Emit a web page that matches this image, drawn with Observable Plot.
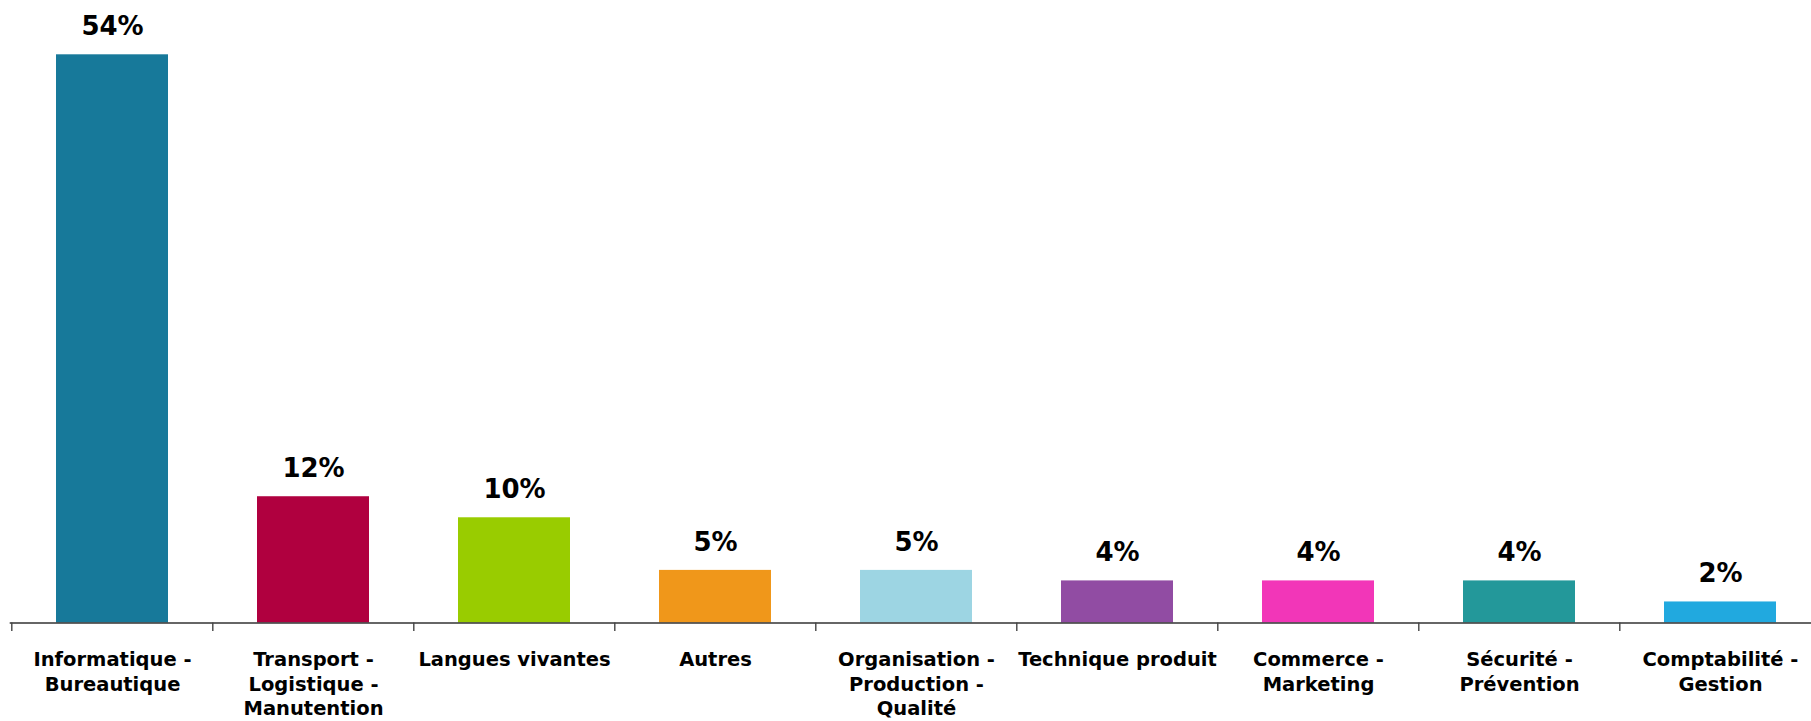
<!DOCTYPE html>
<html>
<head>
<meta charset="utf-8">
<script src="https://cdn.jsdelivr.net/npm/d3@7"></script>
<script src="https://cdn.jsdelivr.net/npm/@observablehq/plot@0.6"></script>
<style>
  html, body { margin: 0; padding: 0; background: #fff; }
  #chart svg { display: block; }
</style>
</head>
<body>
<div id="chart"></div>
<script>
const categories = [
  "Informatique - Bureautique",
  "Transport - Logistique - Manutention",
  "Langues vivantes",
  "Autres",
  "Organisation - Production - Qualité",
  "Technique produit",
  "Commerce - Marketing",
  "Sécurité - Prévention",
  "Comptabilité - Gestion"
];
const tickLabels = [
  "Informatique -\nBureautique",
  "Transport -\nLogistique -\nManutention",
  "Langues vivantes",
  "Autres",
  "Organisation -\nProduction -\nQualité",
  "Technique produit",
  "Commerce -\nMarketing",
  "Sécurité -\nPrévention",
  "Comptabilité -\nGestion"
];
const values = [54, 12, 10, 5, 5, 4, 4, 4, 2];
const colors = ["#17799A", "#B0003F", "#99CC00", "#F0971A", "#9DD5E3", "#914CA3", "#F236B8", "#23989A", "#21A9DF"];

const data = categories.map((c, i) => ({cat: c, label: tickLabels[i], value: values[i], color: colors[i]}));

const W = 1811, H = 721;
const xr = [9.7, 1822.3];
const step = (xr[1] - xr[0]) / categories.length;
const font = "'DejaVu Sans', Verdana, sans-serif";

const chart = Plot.plot({
  width: W,
  height: H,
  marginLeft: 9.7,
  marginRight: 0,
  marginTop: 0,
  marginBottom: 98.5,
  style: {fontFamily: font, background: "#fff"},
  x: {type: "band", domain: categories, range: xr, paddingInner: 0.442, paddingOuter: 0.221, axis: null, label: null},
  y: {domain: [0, 54], range: [622.5, 54.3], axis: null, label: null},
  color: {type: "identity"},
  marks: [
    Plot.barY(data, {x: "cat", y: "value", fill: "color"}),
    Plot.ruleY([0], {stroke: "#333", strokeWidth: 1.6}),
    Plot.axisX({tickSize: 8.5, tickFormat: () => "", label: null, dx: -step / 2, stroke: "#444", strokeWidth: 1.4, anchor: "bottom"}),
    Plot.text(data, {x: "cat", y: "value", text: d => d.value + "%", dy: -28, fontSize: 26, fontWeight: "bold", fill: "#000"}),
    Plot.text(data, {x: "cat", frameAnchor: "bottom", text: "label", dy: 26, lineAnchor: "top", lineHeight: 1.25, fontSize: 19.5, fontWeight: "bold", fill: "#000"})
  ]
});
document.getElementById("chart").appendChild(chart);
</script>
</body>
</html>
